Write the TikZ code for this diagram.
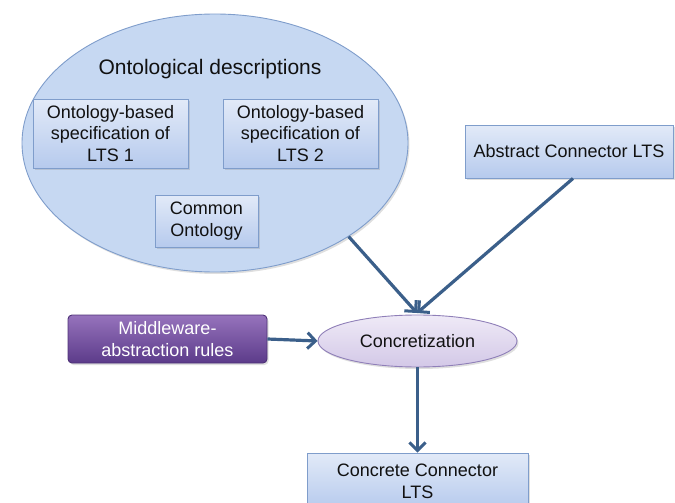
\documentclass[tikz,border=0pt]{standalone}
\usepackage{fontspec}
\setmainfont{Liberation Sans}
\usetikzlibrary{shapes.geometric,arrows.meta,shadows}
\definecolor{txt}{HTML}{111111}
\definecolor{arr}{HTML}{3B5F8A}
\definecolor{bbord}{HTML}{7F9DCB}
\definecolor{btop}{HTML}{E2EAF8}
\definecolor{bbot}{HTML}{B6CAED}
\definecolor{efill}{HTML}{C6D8F2}
\definecolor{ptop}{HTML}{9673BC}
\definecolor{pbot}{HTML}{5C3B8A}
\definecolor{pbord}{HTML}{4E3277}
\definecolor{ltop}{HTML}{EFEAF7}
\definecolor{lbot}{HTML}{D3C8E7}
\definecolor{lbord}{HTML}{8F7FB8}
\tikzset{
  x=1pt,y=-1pt,
  txtfont/.style={font=\fontsize{18}{21.6}\selectfont, text=txt, align=center},
  shad/.style={drop shadow={opacity=0.25, shadow xshift=1.5pt, shadow yshift=-2pt}},
  bluebox/.style={rectangle, draw=bbord, line width=0.9pt, top color=btop, bottom color=bbot, inner sep=0pt, txtfont, shad},
  bigell/.style={ellipse, draw=bbord, line width=0.9pt, fill=efill, inner sep=0pt, minimum width=386pt, minimum height=258pt, shad},
  purplebox/.style={rectangle, rounded corners=4pt, draw=pbord, line width=0.9pt, top color=ptop, bottom color=pbot, inner sep=0pt, font=\fontsize{18}{21.6}\selectfont, text=white, align=center, shad},
  lavell/.style={ellipse, draw=lbord, line width=0.9pt, top color=ltop, bottom color=lbot, inner sep=0pt, txtfont, shad},
  conn/.style={draw=arr, line width=3.2pt, -{Straight Barb[length=8pt,width=16pt,line width=3pt]}}
}
\begin{document}
\begin{tikzpicture}
\useasboundingbox (0,0) rectangle (675,503);
\node[bigell] (onto) at (215,143) {};
\node[txtfont, font=\fontsize{21}{25}\selectfont] (title) at (210,69) {Ontological descriptions};
\node[bluebox, minimum width=155pt, minimum height=69pt] (lts1) at (110.5,133.5) {Ontology-based\\specification of\\LTS 1};
\node[bluebox, minimum width=155pt, minimum height=69pt] (lts2) at (300.5,133.5) {Ontology-based\\specification of\\LTS 2};
\node[bluebox, minimum width=103pt, minimum height=52pt] (common) at (206.5,221) {Common\\Ontology};
\node[bluebox, minimum width=208pt, minimum height=53pt] (abs) at (569,151.5) {Abstract Connector LTS};
\node[purplebox, minimum width=199pt, minimum height=48pt] (mw) at (167.5,339) {Middleware-\\abstraction rules};
\node[lavell, minimum width=199pt, minimum height=52pt] (concr) at (417.5,341) {Concretization};
\node[bluebox, minimum width=221pt, minimum height=56pt] (cc) at (417.5,481) {Concrete Connector\\LTS};
\coordinate (meet) at (417,313);
\draw[conn] (onto.-35.3) -- (meet);
\draw[conn] ([xshift=4pt]abs.south) -- (meet);
\draw[conn] (mw.east) -- (concr.west);
\draw[conn] (concr.south) -- (cc.north);
\end{tikzpicture}
\end{document}
